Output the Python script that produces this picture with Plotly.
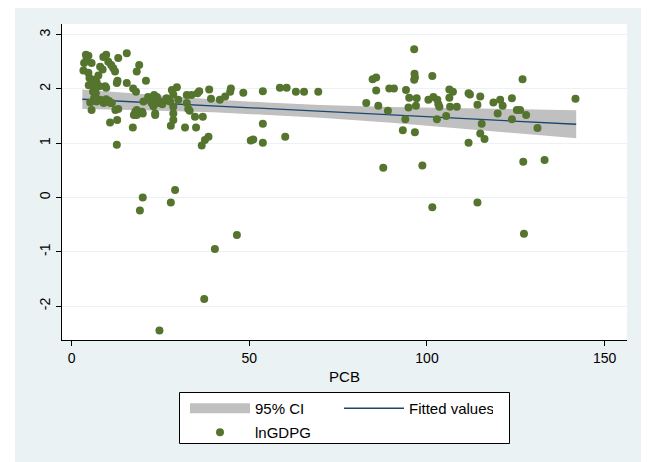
import plotly.graph_objects as go

# ---- data ----
pcb = [3.3, 3.5, 4.0, 4.7, 4.2, 5.6, 4.7, 6.1, 7.0, 4.8, 6.6, 6.8, 6.3, 7.0, 8.0, 9.7, 5.6, 8.0, 8.7, 8.9,
       9.7, 10.3, 11.1, 11.7, 12.2, 9.4, 9.7, 13.1, 12.7, 12.9, 13.1, 11.3, 10.8, 12.8, 12.7, 15.5, 15.5, 17.3, 18.1, 19.0,
       18.3, 17.2, 18.3, 18.3, 20.0, 20.2, 20.9, 23.2, 23.5, 24.0, 22.5, 24.4, 23.5, 24.9, 26.7, 27.7, 28.2, 28.6, 29.6, 30.0,
       28.6, 28.6, 28.6, 27.9, 31.9, 32.4, 33.7, 35.4, 35.9, 32.4, 32.8, 33.2, 34.7, 36.9, 35.0, 38.7, 39.2, 36.6, 37.5, 38.5,
       41.7, 43.2, 44.8, 44.6, 48.3, 50.4, 51.1, 53.8, 53.8, 53.8, 58.6, 60.5, 60.1, 63.1, 65.4, 69.4,
       5.0, 7.5, 6.0, 5.2, 10.5, 7.8, 22.0, 23.0, 25.5, 21.5, 5.7, 9.0, 10.9, 12.3, 17.5, 19.8, 17.9, 26.8, 23.5,
       96.4, 96.5, 96.6, 96.4, 84.7, 85.7, 101.5, 126.9, 85.7, 89.4, 90.7, 94.1, 95.0, 97.1, 96.9, 94.8, 82.9, 86.3, 89.0, 93.9,
       93.2, 96.6, 100.4, 101.8, 102.9, 103.2, 103.5, 102.8, 105.4, 106.3, 107.3, 106.3, 106.5, 108.4, 111.7, 112.1, 115.0, 114.2, 115.4, 115.0,
       116.2, 111.7, 118.7, 120.6, 121.3, 119.9, 123.9, 125.3, 126.2, 127.9, 123.9, 131.1, 141.8, 87.7, 98.7, 127.1, 133.1, 114.2, 101.5, 127.3,
       20.0, 19.2, 27.9, 29.1, 40.3, 46.5, 37.3, 24.7]
lngdpg = [2.34, 2.48, 2.63, 2.61, 2.55, 2.48, 2.30, 2.17, 2.13, 2.07, 2.01, 1.92, 1.83, 1.77, 1.80, 1.81, 1.61, 2.41, 2.36, 2.59,
          2.63, 2.50, 2.44, 2.38, 2.32, 2.05, 2.02, 2.57, 2.11, 2.15, 1.63, 1.74, 1.38, 1.43, 0.97, 2.66, 2.11, 2.01, 1.95, 2.44,
          2.32, 1.29, 1.61, 1.52, 1.55, 1.77, 2.15, 1.89, 1.80, 1.85, 1.74, 1.74, 1.55, 1.77, 1.83, 1.77, 1.98, 1.90, 2.03, 1.80,
          1.67, 1.55, 1.43, 1.32, 1.29, 1.89, 1.89, 1.92, 1.96, 1.74, 1.63, 1.60, 1.49, 1.49, 1.29, 1.99, 1.82, 0.96, 1.06, 1.12,
          1.80, 1.86, 2.01, 1.95, 1.93, 1.05, 1.07, 1.96, 1.36, 1.01, 2.02, 2.02, 1.12, 1.95, 1.95, 1.95,
          2.20, 2.25, 1.95, 1.75, 1.78, 2.05, 1.80, 1.68, 1.72, 1.85, 2.10, 1.74, 1.74, 1.61, 1.52, 1.58, 1.58, 1.80, 1.52,
          2.73, 2.28, 2.21, 2.17, 2.18, 2.21, 2.24, 2.18, 1.97, 2.01, 2.01, 1.98, 1.84, 1.83, 1.69, 1.66, 1.74, 1.69, 1.60, 1.44,
          1.24, 1.20, 1.80, 1.85, 1.80, 1.72, 1.67, 1.44, 1.50, 1.99, 1.95, 1.84, 1.67, 1.67, 1.92, 1.90, 1.86, 1.71, 1.36, 1.18,
          1.08, 1.01, 1.75, 1.80, 1.69, 1.55, 1.83, 1.61, 1.61, 1.52, 1.44, 1.28, 1.82, 0.55, 0.59, 0.66, 0.69, -0.09, -0.18, -0.67,
          0.00, -0.24, -0.09, 0.14, -0.95, -0.69, -1.87, -2.45]

# fitted line and 95% CI band, read at several PCB values
fit_x = [3, 20, 40, 55, 70, 90, 110, 125, 142]
fit_y = [1.810, 1.754, 1.688, 1.638, 1.588, 1.522, 1.456, 1.406, 1.350]
ci_lo = [1.632, 1.609, 1.570, 1.527, 1.470, 1.377, 1.272, 1.188, 1.092]
ci_hi = [1.988, 1.899, 1.806, 1.749, 1.706, 1.667, 1.640, 1.624, 1.608]

x_ticks = [0, 50, 100, 150]
y_ticks = [-2, -1, 0, 1, 2, 3]

# ---- styling ----
FONT = "Liberation Sans, Arial, Helvetica, sans-serif"
BG = "#EAF2F3"
GREEN = "#55752F"
NAVY = "#1A476F"
GRAY = "#C0C0C0"

# the page body has an 8px margin; the figure is sized to fit the 649x462 window
OFF = 8
W, H = 649 - OFF, 462 - OFF
PLOT_X0, PLOT_X1, PLOT_Y0, PLOT_Y1 = 62, 627, 24, 340   # plot area in window pixels
L, T = PLOT_X0 - OFF, PLOT_Y0 - OFF
R, B = (W + OFF) - PLOT_X1, (H + OFF) - PLOT_Y1
PW, PH = PLOT_X1 - PLOT_X0, PLOT_Y1 - PLOT_Y0

def px(xp):
    return (xp - PLOT_X0) / PW

def py(yp):
    return (PLOT_Y1 - yp) / PH

fig = go.Figure()

# CI band (legend via proxy)
fig.add_trace(go.Scatter(
    x=fit_x + fit_x[::-1], y=ci_hi + ci_lo[::-1], fill="toself", fillcolor=GRAY,
    line=dict(width=0, color=GRAY), mode="lines", showlegend=False, hoverinfo="skip"))
fig.add_trace(go.Scatter(
    x=[None], y=[None], mode="lines", line=dict(color=GRAY, width=17),
    name="95% CI", legend="legend"))
fig.add_trace(go.Scatter(
    x=fit_x, y=fit_y, mode="lines", line=dict(color=NAVY, width=1.3),
    name="Fitted values", legend="legend"))
fig.add_trace(go.Scatter(
    x=pcb, y=lngdpg, mode="markers",
    marker=dict(color=GREEN, size=8, line=dict(width=0)),
    name="lnGDPG", legend="legend2"))

shapes = [
    # white outer strips (graph region margin), window pixels
    dict(type="rect", xref="paper", yref="paper", x0=px(0), x1=px(15), y0=py(470), y1=py(0),
         fillcolor="white", line=dict(width=0), layer="below"),
    dict(type="rect", xref="paper", yref="paper", x0=px(643), x1=px(660), y0=py(470), y1=py(0),
         fillcolor="white", line=dict(width=0), layer="below"),
    # legend box
    dict(type="rect", xref="paper", yref="paper", x0=px(179.5), x1=px(509.5), y0=py(443.5), y1=py(392.5),
         fillcolor="white", line=dict(width=1, color="black"), layer="below"),
]

fig.update_layout(
    width=W, height=H,
    margin=dict(l=L, r=R, t=T, b=B, autoexpand=False),
    paper_bgcolor=BG, plot_bgcolor="white",
    font=dict(family=FONT, size=14, color="black"),
    shapes=shapes,
    xaxis=dict(
        range=[-2.73, 156.3], tickvals=x_ticks, ticktext=[str(v) for v in x_ticks],
        showgrid=False, zeroline=False, showline=True, linecolor="black", linewidth=1,
        ticks="outside", ticklen=5, tickcolor="black", tickwidth=1, automargin=False,
        tickfont=dict(size=14), title=dict(text="PCB", standoff=6, font=dict(size=15)),
    ),
    yaxis=dict(
        range=[-2.626, 3.197], tickvals=y_ticks, ticktext=[str(v) for v in y_ticks],
        showgrid=True, gridcolor=BG, gridwidth=1, zeroline=False,
        showline=True, linecolor="black", linewidth=1, automargin=False,
        ticks="outside", ticklen=5, tickcolor="black", tickwidth=1,
        tickangle=-90, tickfont=dict(size=14),
    ),
    legend=dict(
        orientation="h", x=px(185), xanchor="left", y=py(392), yanchor="top",
        bgcolor="rgba(0,0,0,0)", borderwidth=0, itemwidth=60, entrywidth=79,
        font=dict(size=15), tracegroupgap=0, itemclick=False,
    ),
    legend2=dict(
        orientation="h", x=px(185), xanchor="left", y=py(416), yanchor="top",
        bgcolor="rgba(0,0,0,0)", borderwidth=0, itemwidth=60,
        font=dict(size=15), itemclick=False,
    ),
    showlegend=True,
)

fig.write_html("out.html")
